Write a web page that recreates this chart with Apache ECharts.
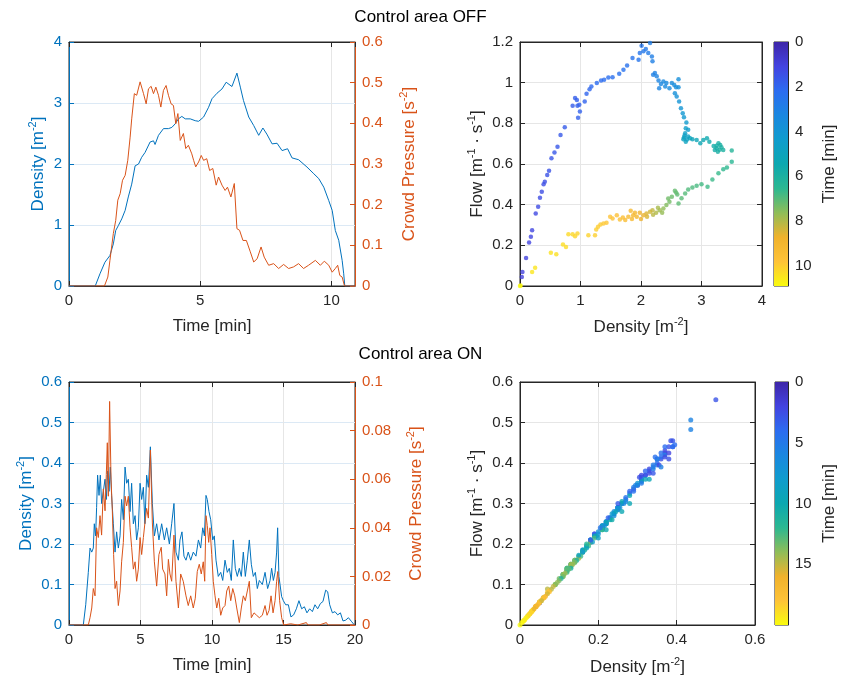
<!DOCTYPE html>
<html>
<head>
<meta charset="utf-8">
<script src="https://cdn.jsdelivr.net/npm/echarts@6/dist/echarts.min.js"></script>
<style>
  html, body { margin: 0; padding: 0; background: #fff; }
  #main { width: 841px; height: 689px; }
</style>
</head>
<body>
<div id="main"></div>
<script>
// ---- Control area OFF: time series ----
var offDensityTime = [0, 1.0, 1.06, 1.18, 1.37, 1.56, 1.69, 1.78, 1.88, 2.01, 2.14, 2.26, 2.39, 2.52, 2.65, 2.77, 2.9, 3.09, 3.22, 3.28, 3.41, 3.6, 3.66, 3.79, 3.92, 4.05, 4.17, 4.3, 4.43, 4.62, 4.81, 4.94, 5.13, 5.32, 5.45, 5.64, 5.83, 5.99, 6.21, 6.4, 6.53, 6.65, 6.85, 7.04, 7.23, 7.39, 7.54, 7.74, 7.93, 8.12, 8.33, 8.5, 8.75, 9.07, 9.33, 9.52, 9.71, 9.9, 10.03, 10.15, 10.28, 10.41, 10.47, 10.51, 10.9];
var offDensity = [0, 0, 0.03, 0.2, 0.39, 0.5, 0.69, 0.91, 0.99, 1.1, 1.24, 1.46, 1.67, 1.97, 2.0, 2.11, 2.19, 2.36, 2.38, 2.32, 2.47, 2.58, 2.61, 2.58, 2.6, 2.66, 2.74, 2.78, 2.74, 2.74, 2.71, 2.7, 2.77, 2.93, 3.07, 3.16, 3.23, 3.34, 3.27, 3.49, 3.26, 3.04, 2.77, 2.63, 2.47, 2.59, 2.49, 2.33, 2.34, 2.22, 2.25, 2.1, 2.07, 1.95, 1.84, 1.76, 1.62, 1.4, 1.24, 0.91, 0.75, 0.42, 0.2, 0, 0];
var offPressureTime = [0, 1.35, 1.48, 1.56, 1.69, 1.78, 1.86, 1.95, 2.04, 2.14, 2.24, 2.33, 2.39, 2.49, 2.58, 2.71, 2.84, 2.94, 3.03, 3.13, 3.22, 3.31, 3.41, 3.5, 3.6, 3.7, 3.79, 3.89, 3.98, 4.07, 4.15, 4.24, 4.36, 4.45, 4.55, 4.68, 4.75, 4.83, 4.94, 5.04, 5.13, 5.25, 5.36, 5.48, 5.61, 5.7, 5.83, 5.95, 6.04, 6.17, 6.3, 6.4, 6.5, 6.63, 6.76, 6.91, 7.04, 7.17, 7.32, 7.44, 7.61, 7.8, 7.99, 8.18, 8.37, 8.56, 8.75, 8.94, 9.13, 9.39, 9.58, 9.73, 9.9, 10.03, 10.15, 10.24, 10.32, 10.41, 10.5, 10.9];
var offPressure = [0, 0, 0.022, 0.063, 0.129, 0.161, 0.211, 0.227, 0.26, 0.272, 0.309, 0.366, 0.411, 0.473, 0.469, 0.502, 0.473, 0.448, 0.485, 0.491, 0.473, 0.489, 0.469, 0.44, 0.481, 0.493, 0.469, 0.448, 0.444, 0.399, 0.424, 0.358, 0.375, 0.338, 0.346, 0.325, 0.309, 0.293, 0.305, 0.321, 0.309, 0.313, 0.284, 0.289, 0.248, 0.268, 0.248, 0.235, 0.243, 0.219, 0.252, 0.141, 0.137, 0.112, 0.112, 0.084, 0.059, 0.067, 0.096, 0.071, 0.051, 0.055, 0.043, 0.053, 0.043, 0.047, 0.055, 0.043, 0.051, 0.063, 0.051, 0.061, 0.051, 0.034, 0.043, 0.051, 0.026, 0.022, 0, 0];

// ---- Control area OFF: flow vs density, coloured by time ----
var offFlowDensity = [0.03, 0.04, 0.10, 0.15, 0.18, 0.20, 0.26, 0.30, 0.33, 0.36, 0.39, 0.41, 0.45, 0.48, 0.52, 0.57, 0.62, 0.67, 0.74, 0.87, 0.91, 0.94, 0.95, 0.96, 0.98, 0.99, 1.07, 1.10, 1.15, 1.18, 1.27, 1.34, 1.39, 1.46, 1.53, 1.64, 1.71, 1.77, 1.86, 1.96, 1.98, 2.01, 2.04, 2.08, 2.12, 2.15, 2.18, 2.19, 2.20, 2.23, 2.26, 2.29, 2.30, 2.33, 2.37, 2.40, 2.42, 2.47, 2.51, 2.55, 2.58, 2.62, 2.62, 2.56, 2.59, 2.63, 2.66, 2.69, 2.71, 2.75, 2.78, 2.74, 2.73, 2.72, 2.78, 2.76, 2.70, 2.71, 2.74, 2.81, 2.85, 2.92, 2.98, 3.03, 3.09, 3.13, 3.20, 3.22, 3.25, 3.25, 3.28, 3.27, 3.31, 3.30, 3.33, 3.36, 3.50,
  3.50, 3.42, 3.36, 3.28, 3.18, 3.10, 3.00, 2.92, 2.85, 2.78, 2.73, 2.67, 2.62, 2.60, 2.58, 2.56, 2.51, 2.45, 2.47, 2.42, 2.37, 2.35, 2.31, 2.28, 2.25, 2.20, 2.19, 2.15, 2.10, 2.09, 2.04, 2.00, 1.98, 1.93, 1.90, 1.87, 1.85, 1.83, 1.79, 1.74, 1.70, 1.65, 1.60, 1.53, 1.49, 1.43, 1.38, 1.33, 1.29, 1.26, 1.24, 1.13, 0.95, 0.91, 0.87, 0.80, 0.76, 0.71, 0.60, 0.51, 0.25, 0.20, 0.01, 0];
var offFlow = [0.044, 0.069, 0.138, 0.214, 0.242, 0.274, 0.357, 0.39, 0.434, 0.464, 0.501, 0.513, 0.546, 0.567, 0.628, 0.656, 0.685, 0.743, 0.781, 0.886, 0.924, 0.915, 0.886, 0.828, 0.891, 0.858, 0.907, 0.945, 0.968, 0.981, 0.998, 1.011, 1.014, 1.026, 1.027, 1.044, 1.063, 1.085, 1.121, 1.113, 1.146, 1.182, 1.154, 1.165, 1.146, 1.195, 1.129, 1.105, 1.039, 1.047, 1.031, 1.011, 0.973, 0.994, 1.006, 0.981, 0.998, 0.973, 0.998, 0.989, 0.978, 1.017, 0.978, 0.948, 0.932, 0.907, 0.874, 0.85, 0.83, 0.804, 0.768, 0.776, 0.751, 0.74, 0.735, 0.72, 0.722, 0.73, 0.71, 0.727, 0.722, 0.718, 0.702, 0.718, 0.727, 0.71, 0.689, 0.669, 0.677, 0.69, 0.702, 0.66, 0.694, 0.67, 0.682, 0.669, 0.666,
  0.611, 0.583, 0.574, 0.554, 0.524, 0.488, 0.501, 0.493, 0.485, 0.475, 0.455, 0.431, 0.406, 0.45, 0.46, 0.468, 0.439, 0.43, 0.414, 0.398, 0.381, 0.36, 0.373, 0.385, 0.36, 0.35, 0.373, 0.365, 0.34, 0.357, 0.348, 0.33, 0.36, 0.34, 0.36, 0.348, 0.33, 0.37, 0.34, 0.324, 0.337, 0.327, 0.348, 0.332, 0.34, 0.311, 0.307, 0.302, 0.291, 0.278, 0.25, 0.25, 0.258, 0.245, 0.255, 0.255, 0.192, 0.204, 0.156, 0.163, 0.09, 0.069, 0.003, 0];
var offFlowTime = [1.02, 1.04, 1.08, 1.13, 1.16, 1.18, 1.25, 1.3, 1.33, 1.36, 1.39, 1.42, 1.48, 1.52, 1.58, 1.62, 1.65, 1.68, 1.72, 1.77, 1.8, 1.83, 1.85, 1.86, 1.87, 1.88, 1.95, 1.98, 2.05, 2.1, 2.16, 2.2, 2.23, 2.26, 2.3, 2.37, 2.41, 2.44, 2.47, 2.51, 2.55, 2.6, 2.65, 2.72, 2.8, 2.85, 2.9, 2.95, 3.0, 3.05, 3.1, 3.15, 3.2, 3.25, 3.3, 3.35, 3.4, 3.45, 3.5, 3.55, 3.6, 3.65, 3.7, 3.75, 3.8, 3.9, 4.0, 4.1, 4.2, 4.3, 4.4, 4.5, 4.6, 4.65, 4.7, 4.75, 4.8, 4.85, 4.9, 5.0, 5.1, 5.2, 5.3, 5.4, 5.5, 5.6, 5.7, 5.75, 5.8, 5.82, 5.85, 5.88, 5.9, 5.92, 5.95, 6.0, 6.3,
  6.45, 6.55, 6.6, 6.65, 6.7, 6.75, 6.8, 6.85, 6.9, 6.95, 7.0, 7.05, 7.1, 7.12, 7.15, 7.18, 7.25, 7.3, 7.35, 7.5, 7.65, 7.7, 7.8, 7.9, 8.0, 8.1, 8.2, 8.35, 8.45, 8.5, 8.65, 8.7, 8.8, 8.95, 9.0, 9.1, 9.15, 9.2, 9.3, 9.4, 9.5, 9.6, 9.7, 9.75, 9.8, 9.85, 9.9, 9.95, 10.0, 10.02, 10.05, 10.1, 10.15, 10.18, 10.2, 10.25, 10.3, 10.32, 10.38, 10.42, 10.48, 10.5, 10.7, 10.9];

// ---- Control area ON: time series ----
var onDensityTime = [0, 1.0, 1.17, 1.35, 1.47, 1.59, 1.7, 1.77, 1.86, 1.93, 2.0, 2.1, 2.19, 2.28, 2.4, 2.52, 2.61, 2.7, 2.8, 2.89, 2.98, 3.1, 3.22, 3.33, 3.45, 3.57, 3.68, 3.8, 3.92, 4.03, 4.15, 4.27, 4.38, 4.5, 4.62, 4.73, 4.85, 4.97, 5.08, 5.2, 5.31, 5.43, 5.55, 5.69, 5.83, 5.97, 6.13, 6.29, 6.48, 6.67, 6.83, 7.02, 7.18, 7.34, 7.48, 7.65, 7.76, 7.9, 8.04, 8.18, 8.34, 8.51, 8.69, 8.88, 9.05, 9.21, 9.35, 9.47, 9.58, 9.67, 9.79, 9.91, 10.05, 10.16, 10.28, 10.44, 10.61, 10.75, 10.91, 11.07, 11.21, 11.35, 11.49, 11.63, 11.77, 11.91, 12.05, 12.19, 12.33, 12.47, 12.61, 12.75, 12.89, 13.03, 13.17, 13.31, 13.52, 13.71, 13.89, 14.06, 14.17, 14.29, 14.41, 14.52, 14.59, 14.68, 14.78, 14.87, 14.99, 15.15, 15.34, 15.52, 15.71, 15.9, 16.08, 16.27, 16.46, 16.64, 16.83, 17.02, 17.2, 17.39, 17.58, 17.76, 17.95, 18.09, 18.23, 18.42, 18.6, 18.79, 18.98, 19.16, 19.35, 19.54, 19.77, 19.96];
var onDensity = [0, 0, 0.05, 0.13, 0.19, 0.18, 0.19, 0.25, 0.22, 0.29, 0.37, 0.32, 0.37, 0.30, 0.33, 0.36, 0.31, 0.38, 0.33, 0.39, 0.32, 0.25, 0.18, 0.23, 0.19, 0.22, 0.31, 0.26, 0.39, 0.35, 0.36, 0.28, 0.35, 0.25, 0.27, 0.21, 0.24, 0.35, 0.31, 0.34, 0.25, 0.37, 0.34, 0.44, 0.30, 0.22, 0.25, 0.21, 0.25, 0.21, 0.24, 0.20, 0.25, 0.30, 0.18, 0.16, 0.21, 0.23, 0.17, 0.16, 0.18, 0.16, 0.18, 0.17, 0.21, 0.19, 0.24, 0.22, 0.32, 0.31, 0.28, 0.26, 0.21, 0.22, 0.16, 0.12, 0.13, 0.11, 0.16, 0.13, 0.14, 0.11, 0.21, 0.14, 0.12, 0.14, 0.12, 0.18, 0.12, 0.16, 0.21, 0.15, 0.12, 0.13, 0.09, 0.11, 0.10, 0.13, 0.09, 0.11, 0.14, 0.11, 0.13, 0.18, 0.24, 0.12, 0.12, 0.07, 0.06, 0.05, 0.05, 0.02, 0.025, 0.04, 0.06, 0.04, 0.045, 0.03, 0.04, 0.033, 0.05, 0.04, 0.053, 0.058, 0.086, 0.082, 0.05, 0.03, 0.033, 0.025, 0.03, 0.01, 0.012, 0.018, 0.008, 0];
var onPressureTime = [0, 1.35, 1.47, 1.59, 1.7, 1.82, 1.93, 2.05, 2.17, 2.28, 2.4, 2.52, 2.61, 2.68, 2.75, 2.84, 2.94, 3.03, 3.12, 3.22, 3.33, 3.45, 3.57, 3.68, 3.8, 3.92, 4.03, 4.15, 4.27, 4.38, 4.5, 4.62, 4.73, 4.85, 4.97, 5.08, 5.2, 5.31, 5.43, 5.55, 5.69, 5.83, 5.97, 6.13, 6.29, 6.45, 6.55, 6.71, 6.83, 6.95, 7.06, 7.18, 7.34, 7.48, 7.65, 7.81, 7.99, 8.18, 8.34, 8.51, 8.69, 8.83, 8.97, 9.11, 9.25, 9.39, 9.49, 9.58, 9.67, 9.77, 9.86, 9.98, 10.09, 10.21, 10.33, 10.47, 10.61, 10.75, 10.91, 11.03, 11.17, 11.31, 11.45, 11.59, 11.73, 11.91, 12.05, 12.19, 12.33, 12.47, 12.61, 12.75, 12.94, 13.12, 13.31, 13.52, 13.71, 13.85, 13.99, 14.13, 14.27, 14.41, 14.52, 14.6, 14.73, 14.87, 15.01, 15.5, 15.6, 16.0, 16.6, 16.7, 17.5, 18.0, 18.1, 19.0, 20.0];
var onPressure = [0, 0, 0.003, 0.007, 0.015, 0.012, 0.04, 0.036, 0.045, 0.037, 0.056, 0.047, 0.062, 0.075, 0.053, 0.092, 0.06, 0.047, 0.029, 0.015, 0.018, 0.008, 0.014, 0.026, 0.034, 0.053, 0.049, 0.053, 0.04, 0.032, 0.023, 0.026, 0.018, 0.023, 0.036, 0.029, 0.036, 0.042, 0.048, 0.044, 0.072, 0.042, 0.026, 0.016, 0.029, 0.032, 0.023, 0.021, 0.012, 0.027, 0.021, 0.018, 0.037, 0.018, 0.007, 0.021, 0.018, 0.012, 0.008, 0.012, 0.007, 0.011, 0.022, 0.025, 0.021, 0.026, 0.018, 0.045, 0.041, 0.034, 0.04, 0.029, 0.018, 0.012, 0.007, 0.011, 0.004, 0.007, 0.008, 0.014, 0.016, 0.01, 0.015, 0.012, 0.007, 0.001, 0.007, 0.012, 0.01, 0.014, 0.018, 0.003, 0.005, 0.004, 0.003, 0.004, 0.008, 0.004, 0.006, 0.012, 0.005, 0.01, 0.018, 0.022, 0.01, 0.003, 0, 0.0005, 0, 0, 0.001, 0, 0, 0.001, 0, 0, 0];

// ---- Control area ON: flow vs density, coloured by time ----
var onFlowDensity = [0.05, 0.13, 0.19, 0.18, 0.19, 0.25, 0.22, 0.29, 0.37, 0.32, 0.37, 0.30, 0.33, 0.36, 0.31, 0.38, 0.33, 0.50, 0.39, 0.32, 0.25, 0.18, 0.23, 0.19, 0.22, 0.31, 0.26, 0.39, 0.35, 0.36, 0.28, 0.35, 0.25, 0.27, 0.21, 0.24, 0.35, 0.31, 0.34, 0.25, 0.37, 0.34, 0.436, 0.436, 0.30, 0.22, 0.25, 0.21, 0.25, 0.21, 0.24, 0.20, 0.25, 0.30, 0.18, 0.16, 0.21, 0.23, 0.17, 0.16, 0.18, 0.16, 0.18, 0.17, 0.21, 0.19, 0.24, 0.22, 0.32, 0.31, 0.28, 0.26, 0.21, 0.22, 0.16, 0.12, 0.13, 0.11, 0.16, 0.13, 0.14, 0.11, 0.21, 0.14, 0.12, 0.14, 0.12, 0.18, 0.12, 0.16, 0.21, 0.15, 0.12, 0.13, 0.09, 0.11, 0.10, 0.13, 0.09, 0.11, 0.14, 0.11, 0.13, 0.18, 0.12, 0.07, 0.06, 0.05, 0.05, 0.02, 0.025, 0.04, 0.06, 0.04, 0.045, 0.03, 0.04, 0.033, 0.05, 0.04, 0.053, 0.058, 0.075, 0.07, 0.05, 0.03, 0.033, 0.025, 0.03, 0.01, 0.012, 0.018, 0.008, 0,
  0.38, 0.385, 0.39, 0.395, 0.37, 0.36, 0.35, 0.355, 0.345, 0.34, 0.33, 0.32, 0.31, 0.305, 0.295, 0.29, 0.28, 0.27, 0.265, 0.26, 0.255, 0.25, 0.245, 0.24, 0.235, 0.23, 0.225, 0.22, 0.215, 0.21, 0.205, 0.2, 0.195, 0.19, 0.185, 0.18, 0.175, 0.17, 0.165, 0.16, 0.155, 0.15, 0.145, 0.14, 0.135, 0.13, 0.125, 0.12, 0.115, 0.11, 0.105, 0.1, 0.095, 0.09, 0.085, 0.08, 0.075, 0.07, 0.065, 0.062, 0.055, 0.048, 0.042, 0.036, 0.028, 0.022, 0.015, 0.005,
  0.31, 0.28, 0.22, 0.36, 0.37, 0.33, 0.26, 0.29, 0.34, 0.38, 0.2, 0.17, 0.27, 0.235, 0.12, 0.15];
var onFlow = [0.055, 0.148, 0.22, 0.205, 0.225, 0.29, 0.25, 0.335, 0.425, 0.37, 0.43, 0.345, 0.385, 0.41, 0.36, 0.44, 0.38, 0.556, 0.455, 0.37, 0.285, 0.21, 0.265, 0.225, 0.255, 0.355, 0.30, 0.44, 0.40, 0.415, 0.325, 0.41, 0.29, 0.31, 0.245, 0.275, 0.395, 0.365, 0.385, 0.29, 0.42, 0.39, 0.506, 0.483, 0.345, 0.255, 0.29, 0.245, 0.285, 0.24, 0.28, 0.23, 0.29, 0.35, 0.21, 0.185, 0.24, 0.265, 0.195, 0.18, 0.205, 0.185, 0.21, 0.195, 0.245, 0.22, 0.275, 0.255, 0.36, 0.355, 0.32, 0.30, 0.24, 0.25, 0.18, 0.135, 0.145, 0.125, 0.18, 0.15, 0.16, 0.125, 0.24, 0.16, 0.135, 0.155, 0.14, 0.205, 0.14, 0.18, 0.235, 0.17, 0.135, 0.15, 0.10, 0.125, 0.115, 0.145, 0.10, 0.125, 0.16, 0.12, 0.15, 0.205, 0.135, 0.089, 0.068, 0.057, 0.056, 0.023, 0.028, 0.045, 0.067, 0.046, 0.05, 0.034, 0.045, 0.037, 0.056, 0.045, 0.06, 0.065, 0.085, 0.08, 0.057, 0.034, 0.037, 0.028, 0.034, 0.011, 0.013, 0.02, 0.009, 0,
  0.425, 0.455, 0.44, 0.445, 0.415, 0.425, 0.41, 0.395, 0.415, 0.395, 0.375, 0.38, 0.35, 0.365, 0.345, 0.33, 0.33, 0.315, 0.3, 0.305, 0.29, 0.3, 0.28, 0.27, 0.275, 0.26, 0.265, 0.25, 0.245, 0.235, 0.24, 0.225, 0.22, 0.215, 0.205, 0.21, 0.195, 0.19, 0.185, 0.18, 0.17, 0.165, 0.16, 0.155, 0.15, 0.14, 0.138, 0.13, 0.128, 0.12, 0.115, 0.11, 0.105, 0.1, 0.095, 0.088, 0.082, 0.077, 0.071, 0.068, 0.06, 0.053, 0.046, 0.04, 0.031, 0.024, 0.017, 0.006,
  0.37, 0.30, 0.235, 0.39, 0.44, 0.36, 0.28, 0.34, 0.375, 0.41, 0.215, 0.2, 0.305, 0.26, 0.14, 0.172];
var onFlowTime = [1.17, 1.35, 1.47, 1.59, 1.7, 1.77, 1.86, 1.93, 2.0, 2.1, 2.19, 2.28, 2.4, 2.52, 2.61, 2.7, 2.8, 2.85, 2.89, 2.98, 3.1, 3.22, 3.33, 3.45, 3.57, 3.68, 3.8, 3.92, 4.03, 4.15, 4.27, 4.38, 4.5, 4.62, 4.73, 4.85, 4.97, 5.08, 5.2, 5.31, 5.43, 5.55, 5.69, 5.62, 5.83, 5.97, 6.13, 6.29, 6.48, 6.67, 6.83, 7.02, 7.18, 7.34, 7.48, 7.65, 7.76, 7.9, 8.04, 8.18, 8.34, 8.51, 8.69, 8.88, 9.05, 9.21, 9.35, 9.47, 9.58, 9.67, 9.79, 9.91, 10.05, 10.16, 10.28, 10.44, 10.61, 10.75, 10.91, 11.07, 11.21, 11.35, 11.49, 11.63, 11.77, 11.91, 12.05, 12.19, 12.33, 12.47, 12.61, 12.75, 12.89, 13.03, 13.17, 13.31, 13.52, 13.71, 13.89, 14.06, 14.17, 14.29, 14.41, 14.52, 14.68, 14.87, 14.99, 15.15, 15.34, 15.52, 15.71, 15.9, 16.08, 16.27, 16.46, 16.64, 16.83, 17.02, 17.2, 17.39, 17.58, 17.76, 17.95, 18.09, 18.23, 18.42, 18.6, 18.79, 18.98, 19.16, 19.35, 19.54, 19.77, 19.96,
  2.05, 2.75, 3.95, 4.1, 2.25, 4.2, 5.5, 2.45, 4.4, 5.1, 2.35, 3.65, 5.0, 2.65, 5.85, 4.3, 3.75, 4.6, 6.1, 9.9, 7.2, 3.1, 9.4, 6.8, 7.9, 10.2, 3.55, 9.1, 6.6, 11.5, 4.75, 7.0, 9.2, 12.6, 8.3, 3.25, 12.2, 8.9, 10.9, 7.6, 12.4, 14.5, 11.2, 13.6, 14.2, 11.0, 13.0, 12.3, 14.3, 13.3, 11.4, 13.5, 14.1, 13.9, 15.0, 14.9, 17.9, 15.3, 16.1, 17.7, 15.2, 17.3, 16.5, 15.9, 18.5, 19.0, 19.5, 19.8,
  2.2, 9.7, 10.1, 5.45, 4.0, 9.6, 9.8, 5.2, 3.0, 2.6, 8.6, 11.8, 6.3, 10.4, 12.8, 9.0];

// parula-like colour map, used for both colour bars
var parula = ['#3e26a8', '#4343e0', '#2c6cf0', '#1a87e0', '#0f9ccd', '#0ca8b0', '#2cb891', '#8fbd58', '#f0b22c', '#fec338', '#f9fb0e'];

var blue = '#0072BD';
var orange = '#D95319';
var dark = '#262626';
var font = 'Liberation Sans';

function zip(a, b) {
  return a.map(function(v, i) { return [v, b[i]]; });
}
function zip3(a, b, c) {
  return a.map(function(v, i) { return [v, b[i], c[i]]; });
}

function nameStyle(color) {
  return {
    fontSize: 17, color: color, fontFamily: font, lineHeight: 22,
    rich: { sup: { fontSize: 11, color: color, fontFamily: font, verticalAlign: 'top', lineHeight: 10 } }
  };
}

// value axis with MATLAB-like inward ticks
function valueAxis(o) {
  var color = o.color || dark;
  return {
    type: 'value',
    gridIndex: o.grid,
    position: o.position,
    min: o.min,
    max: o.max,
    interval: o.interval,
    inverse: !!o.inverse,
    name: o.name || '',
    nameLocation: 'middle',
    nameGap: o.nameGap || 30,
    nameTextStyle: nameStyle(color),
    axisLine: { show: true, onZero: false, lineStyle: { color: color, width: 1 } },
    axisTick: { show: true, inside: true, length: 5, lineStyle: { color: color } },
    axisLabel: {
      show: !o.noLabel,
      color: color,
      fontSize: 15,
      fontFamily: font,
      margin: 7,
      showMaxLabel: o.hideMax ? false : null
    },
    splitLine: { show: !!o.split, lineStyle: { color: o.split || '#e6e6e6', width: 1 } }
  };
}

// colour bar drawn as one gradient rect filling its grid
function gradientRect(params) {
  var cs = params.coordSys;
  var stops = parula.map(function(c, i) { return { offset: i / (parula.length - 1), color: c }; });
  return {
    type: 'rect',
    shape: { x: cs.x, y: cs.y, width: cs.width, height: cs.height },
    style: { fill: new echarts.graphic.LinearGradient(0, 0, 0, 1, stops) }
  };
}

var chart = echarts.init(document.getElementById('main'));

var gridBox = { show: true, borderColor: dark, borderWidth: 1, backgroundColor: 'transparent', containLabel: false };

chart.setOption({
  backgroundColor: '#fff',
  animation: false,
  title: [
    { text: 'Control area OFF', left: 'center', top: 4, textStyle: { fontSize: 17, fontWeight: 'normal', color: '#000', fontFamily: font } },
    { text: 'Control area ON', left: 'center', top: 341, textStyle: { fontSize: 17, fontWeight: 'normal', color: '#000', fontFamily: font } }
  ],
  grid: [
    Object.assign({ left: 69, top: 42, width: 286, height: 244 }, gridBox),
    Object.assign({ left: 520, top: 42, width: 242, height: 244 }, gridBox),
    Object.assign({ left: 774, top: 42, width: 14, height: 244 }, gridBox),
    Object.assign({ left: 69, top: 382, width: 286, height: 243 }, gridBox),
    Object.assign({ left: 520, top: 382, width: 235, height: 243 }, gridBox),
    Object.assign({ left: 775, top: 382, width: 14, height: 243 }, gridBox)
  ],
  xAxis: [
    valueAxis({ grid: 0, position: 'bottom', min: 0, max: 10.9, interval: 5, name: 'Time [min]', nameGap: 29, split: '#e6e6e6', hideMax: true }),
    valueAxis({ grid: 0, position: 'top', min: 0, max: 10.9, interval: 5, noLabel: true, hideMax: true }),
    valueAxis({ grid: 1, position: 'bottom', min: 0, max: 4, interval: 1, name: 'Density [m{sup|-2}]', nameGap: 30, split: '#e6e6e6' }),
    valueAxis({ grid: 1, position: 'top', min: 0, max: 4, interval: 1, noLabel: true }),
    { type: 'value', gridIndex: 2, min: 0, max: 1, show: false },
    valueAxis({ grid: 3, position: 'bottom', min: 0, max: 20, interval: 5, name: 'Time [min]', nameGap: 29, split: '#e6e6e6' }),
    valueAxis({ grid: 3, position: 'top', min: 0, max: 20, interval: 5, noLabel: true }),
    valueAxis({ grid: 4, position: 'bottom', min: 0, max: 0.6, interval: 0.2, name: 'Density [m{sup|-2}]', nameGap: 31, split: '#e6e6e6' }),
    valueAxis({ grid: 4, position: 'top', min: 0, max: 0.6, interval: 0.2, noLabel: true }),
    { type: 'value', gridIndex: 5, min: 0, max: 1, show: false }
  ],
  yAxis: [
    valueAxis({ grid: 0, position: 'left', min: 0, max: 4, interval: 1, color: blue, name: 'Density [m{sup|-2}]', nameGap: 19, split: '#dce9f5' }),
    valueAxis({ grid: 0, position: 'right', min: 0, max: 0.6, interval: 0.1, color: orange, name: 'Crowd Pressure [s{sup|-2}]', nameGap: 43 }),
    valueAxis({ grid: 1, position: 'left', min: 0, max: 1.2, interval: 0.2, name: 'Flow [m{sup|-1} \u00b7 s{sup|-1}]', nameGap: 31, split: '#e6e6e6' }),
    valueAxis({ grid: 1, position: 'right', min: 0, max: 1.2, interval: 0.2, noLabel: true }),
    valueAxis({ grid: 2, position: 'right', min: 0, max: 10.9, interval: 2, inverse: true, name: 'Time [min]', nameGap: 30, hideMax: true }),
    valueAxis({ grid: 3, position: 'left', min: 0, max: 0.6, interval: 0.1, color: blue, name: 'Density [m{sup|-2}]', nameGap: 29, split: '#dce9f5' }),
    valueAxis({ grid: 3, position: 'right', min: 0, max: 0.1, interval: 0.02, color: orange, name: 'Crowd Pressure [s{sup|-2}]', nameGap: 50 }),
    valueAxis({ grid: 4, position: 'left', min: 0, max: 0.6, interval: 0.1, name: 'Flow [m{sup|-1} \u00b7 s{sup|-1}]', nameGap: 31, split: '#e6e6e6' }),
    valueAxis({ grid: 4, position: 'right', min: 0, max: 0.6, interval: 0.1, noLabel: true }),
    valueAxis({ grid: 5, position: 'right', min: 0, max: 20, interval: 5, inverse: true, name: 'Time [min]', nameGap: 30, hideMax: true })
  ],
  visualMap: [
    { type: 'continuous', show: false, seriesIndex: 4, dimension: 2, min: 0, max: 10.9, inRange: { color: parula } },
    { type: 'continuous', show: false, seriesIndex: 7, dimension: 2, min: 0, max: 20, inRange: { color: parula } }
  ],
  series: [
    { type: 'line', xAxisIndex: 0, yAxisIndex: 0, data: zip(offDensityTime, offDensity), showSymbol: false, lineStyle: { color: blue, width: 1 }, itemStyle: { color: blue } },
    { type: 'line', xAxisIndex: 0, yAxisIndex: 1, data: zip(offPressureTime, offPressure), showSymbol: false, lineStyle: { color: orange, width: 1 }, itemStyle: { color: orange } },
    { type: 'custom', xAxisIndex: 4, yAxisIndex: 4, data: [[0.5, 5]], renderItem: gradientRect, silent: true },
    { type: 'custom', xAxisIndex: 9, yAxisIndex: 9, data: [[0.5, 10]], renderItem: gradientRect, silent: true },
    { type: 'scatter', xAxisIndex: 2, yAxisIndex: 2, data: zip3(offFlowDensity, offFlow, offFlowTime), symbolSize: 4.5 },
    { type: 'line', xAxisIndex: 5, yAxisIndex: 5, data: zip(onDensityTime, onDensity), showSymbol: false, lineStyle: { color: blue, width: 1 }, itemStyle: { color: blue } },
    { type: 'line', xAxisIndex: 5, yAxisIndex: 6, data: zip(onPressureTime, onPressure), showSymbol: false, lineStyle: { color: orange, width: 1 }, itemStyle: { color: orange } },
    { type: 'scatter', xAxisIndex: 7, yAxisIndex: 7, data: zip3(onFlowDensity, onFlow, onFlowTime), symbolSize: 5 }
  ]
});
</script>
</body>
</html>
